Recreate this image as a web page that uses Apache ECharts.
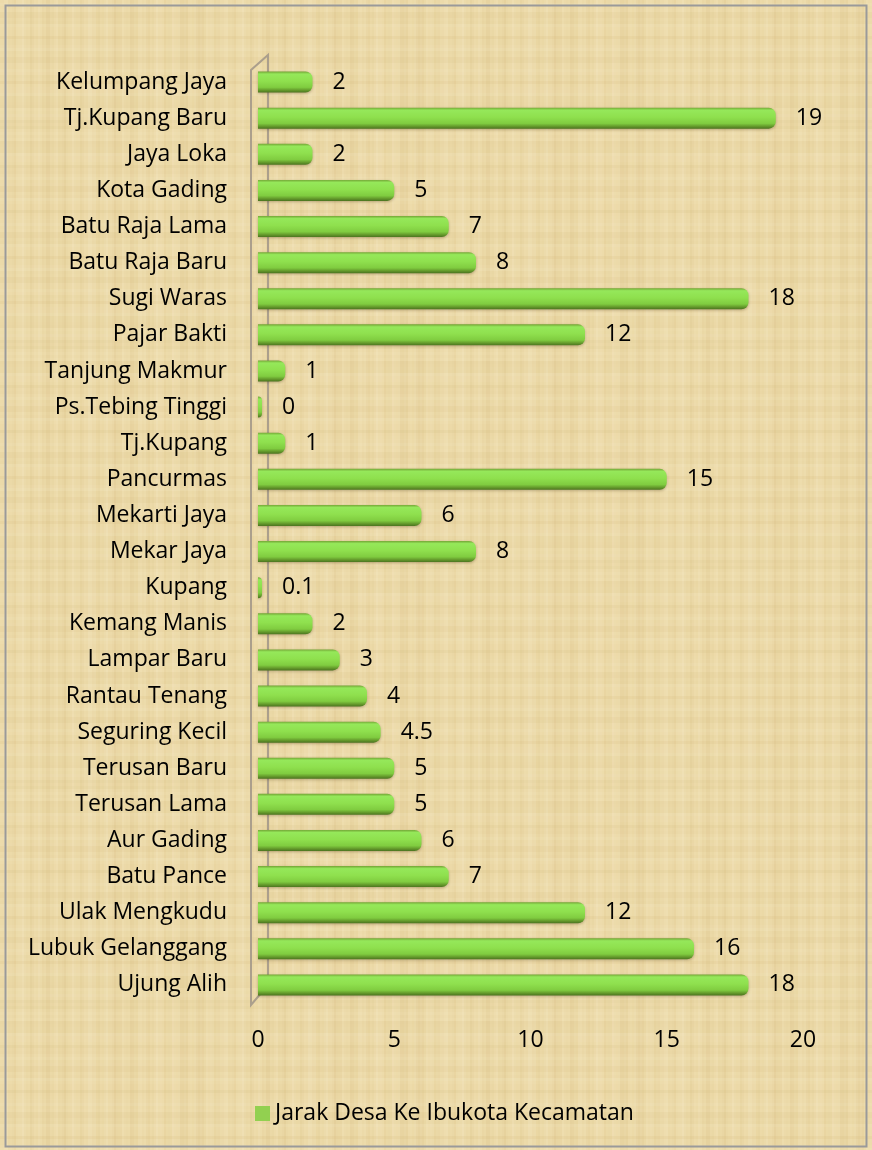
<!DOCTYPE html>
<html>
<head>
<meta charset="utf-8">
<script src="https://cdn.jsdelivr.net/npm/echarts@6/dist/echarts.min.js"></script>
<style>
html,body{margin:0;padding:0;background:#fff;}
#c{width:872px;height:1150px;}
</style>
</head>
<body>
<div id="c"></div>
<script>
const categories = ["Kelumpang Jaya","Tj.Kupang Baru","Jaya Loka","Kota Gading","Batu Raja Lama","Batu Raja Baru","Sugi Waras","Pajar Bakti","Tanjung Makmur","Ps.Tebing Tinggi","Tj.Kupang","Pancurmas","Mekarti Jaya","Mekar Jaya","Kupang","Kemang Manis","Lampar Baru","Rantau Tenang","Seguring Kecil","Terusan Baru","Terusan Lama","Aur Gading","Batu Pance","Ulak Mengkudu","Lubuk Gelanggang","Ujung Alih"];
const values = [2,19,2,5,7,8,18,12,1,0,1,15,6,8,0.1,2,3,4,4.5,5,5,6,7,12,16,18];
const seriesName = "Jarak Desa Ke Ibukota Kecamatan";
const xTicks = [0,5,10,15,20];

// papyrus-like background texture (deterministic)
function makeTexture(){
  const cv = document.createElement('canvas');
  cv.width = 220; cv.height = 220;
  const g = cv.getContext('2d');
  g.fillStyle = '#ecdaa8';
  g.fillRect(0,0,220,220);
  for(let x=0;x<220;x+=2){
    const v = Math.sin(x*0.37)*0.5+Math.sin(x*1.13+1.7)*0.3+Math.sin(x*0.09)*0.2;
    g.fillStyle = v>0 ? 'rgba(248,236,205,'+(v*0.3).toFixed(3)+')' : 'rgba(205,175,110,'+(-v*0.2).toFixed(3)+')';
    g.fillRect(x,0,2,220);
  }
  for(let y=0;y<220;y+=3){
    const v = Math.sin(y*0.29+0.4)*0.6+Math.sin(y*0.83)*0.4;
    g.fillStyle = v>0 ? 'rgba(250,240,212,'+(v*0.15).toFixed(3)+')' : 'rgba(200,170,105,'+(-v*0.12).toFixed(3)+')';
    g.fillRect(0,y,220,3);
  }
  return cv;
}

const chart = echarts.init(document.getElementById('c'), null, {renderer:'canvas'});
const FONT = 'Open Sans';
const FS = 23;
const barGrad = new echarts.graphic.LinearGradient(0,0,0,1,[
  {offset:0,color:'#74a636'},
  {offset:0.12,color:'#95e85a'},
  {offset:0.45,color:'#8fe04e'},
  {offset:0.75,color:'#80cc40'},
  {offset:0.9,color:'#62962a'},
  {offset:1,color:'#4b7420'}
]);

chart.setOption({
  backgroundColor: {image: makeTexture(), repeat: 'repeat'},
  animation: false,
  grid: {left:258, right:69, top:64, bottom:147, containLabel:false},
  xAxis: {
    type:'value', min:0, max:20, interval:5,
    axisLine:{show:false}, axisTick:{show:false}, splitLine:{show:false},
    axisLabel:{color:'#000', fontFamily:FONT, fontSize:FS, margin:26,
      formatter: v => xTicks.includes(v) ? String(v) : ''}
  },
  yAxis: {
    type:'category', data:categories, inverse:true,
    axisLine:{show:false}, axisTick:{show:false},
    axisLabel:{color:'#000', fontFamily:FONT, fontSize:FS, margin:31}
  },
  legend: {
    data:[{name:seriesName, itemStyle:{color:'#92d050'}}], left:250, top:1097, itemWidth:15, itemHeight:15, itemGap:5,
    icon:'rect',
    textStyle:{color:'#000', fontFamily:FONT, fontSize:FS}
  },
  series: [{
    name: seriesName, type:'bar', data: values, barWidth:21, barMinHeight:4,
    itemStyle:{color:barGrad, borderRadius:[0,7,7,0], shadowColor:'rgba(80,60,20,0.35)', shadowBlur:3, shadowOffsetY:1},
    label:{show:true, position:'right', distance:20, color:'#000', fontFamily:FONT, fontSize:FS},
    emphasis:{disabled:true}
  }],
  color:['#92d050'],
  graphic: [
    {type:'rect', shape:{x:5.5,y:5.5,width:861,height:1141}, style:{fill:'none', stroke:'#9a9a9a', lineWidth:2}, silent:true},
    {type:'polyline', shape:{points:[[268,990],[268,55],[251,70],[251,1005],[262,992]]}, style:{fill:'none', stroke:'#ab9f8c', lineWidth:2}, silent:true, z:-1}
  ]
});
</script>
</body>
</html>
